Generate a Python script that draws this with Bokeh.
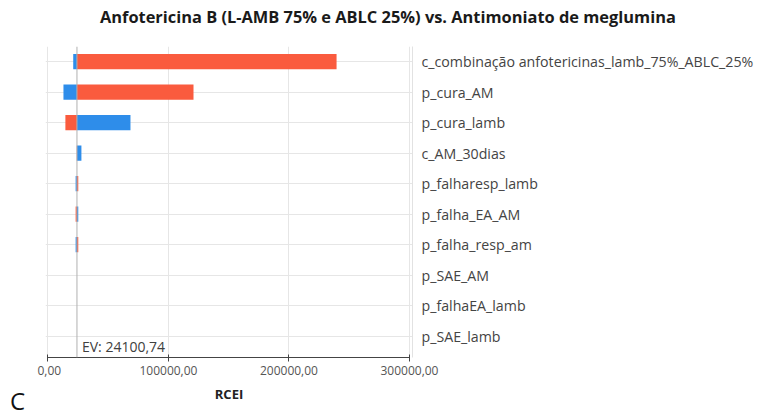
from bokeh.plotting import figure
from bokeh.layouts import row, column
from bokeh.models import Range1d, FixedTicker, Span, Label, Div
from bokeh.core.properties import value
from bokeh.embed import file_html
from bokeh.resources import INLINE

title_text = "Anfotericina B (L-AMB 75% e ABLC 25%) vs. Antimoniato de meglumina"
categories = [
    "c_combinação anfotericinas_lamb_75%_ABLC_25%",
    "p_cura_AM",
    "p_cura_lamb",
    "c_AM_30dias",
    "p_falharesp_lamb",
    "p_falha_EA_AM",
    "p_falha_resp_am",
    "p_SAE_AM",
    "p_falhaEA_lamb",
    "p_SAE_lamb",
]
ev = 24100.74
blue_values = [21000, 12900, 68500, 27800, 23000, 25200, 23000, 24100.74, 24100.74, 24100.74]
red_values = [239500, 120800, 14500, 23900, 25200, 23000, 25200, 24100.74, 24100.74, 24100.74]
x_ticks = [0, 100000, 200000, 300000]
x_tick_labels = ["0,00", "100000,00", "200000,00", "300000,00"]
ev_text = "EV: 24100,74"
x_label = "RCEI"
panel_letter = "C"

FONT = "Open Sans"
rows = list(range(len(categories)))

p = figure(
    title=None,
    frame_width=367, frame_height=311,
    x_range=Range1d(-2000, 302500), y_range=Range1d(9.7, -0.5),
    y_axis_location="right",
    output_backend="svg", toolbar_location=None,
    min_border_left=8, min_border_right=0, min_border_top=12, min_border_bottom=4,
)
p.outline_line_color = None
p.background_fill_color = "white"

p.hbar(y=rows, left=ev, right=blue_values, height=0.5, color="#2E8DEA", line_color=None)
p.hbar(y=rows, left=ev, right=red_values, height=0.5, color="#FA5B3E", line_color=None)

p.add_layout(Span(location=ev, dimension="height", line_color="#b0b0b0", line_width=1))
p.add_layout(Label(x=ev, y=9.33, x_offset=5, text=ev_text, text_baseline="middle",
                   text_font=FONT, text_font_size="14px", text_color="#404040"))

# x axis
xa = p.xaxis[0]
xa.ticker = FixedTicker(ticks=x_ticks)
xa.major_label_overrides = {t_: l for t_, l in zip(x_ticks, x_tick_labels)}
xa.bounds = (x_ticks[0], x_ticks[-1])
xa.axis_line_color = "#444444"
xa.major_tick_line_color = "#444444"
xa.major_tick_in = 3
xa.major_tick_out = 4
xa.minor_tick_line_color = None
xa.major_label_text_font = FONT
xa.major_label_text_font_size = "12px"
xa.major_label_text_color = "#555555"
xa.major_label_standoff = 4
xa.axis_label = x_label
xa.axis_label_text_font = FONT
xa.axis_label_text_font_size = "13px"
xa.axis_label_text_font_style = "bold"
xa.axis_label_text_color = "#222222"
xa.axis_label_standoff = 7

# y axis (right)
ya = p.yaxis[0]
ya.ticker = FixedTicker(ticks=rows)
ya.major_label_overrides = {i: c for i, c in zip(rows, categories)}
ya.axis_line_color = "#e2e2e2"
ya.major_tick_line_color = None
ya.major_tick_in = 0
ya.major_tick_out = 0
ya.minor_tick_line_color = None
ya.major_label_standoff = 9
ya.major_label_text_font = FONT
ya.major_label_text_font_size = "14.2px"
ya.major_label_text_color = "#444444"

p.xgrid.ticker = FixedTicker(ticks=x_ticks)
p.xgrid.grid_line_color = "#e6e6e6"
p.ygrid.ticker = FixedTicker(ticks=rows)
p.ygrid.grid_line_color = "#e6e6e6"

# chart title above everything
title_div = Div(text=title_text, width=640, height=34, margin=(0, 0, 0, 100),
                styles={"font-family": FONT, "font-size": "16.4px", "font-weight": "bold",
                        "line-height": "34px", "color": "#1a1a1a", "white-space": "nowrap"})

# panel letter, placed to the left of the chart
letter = Div(text=panel_letter, width=27, height=22, margin=(356, 0, 0, 10),
             styles={"font-family": FONT, "font-size": "24px", "line-height": "22px",
                     "color": "#111111"})

layout = column(title_div, row(letter, p), spacing=0)
open("out.html", "w").write(file_html(layout, INLINE))
